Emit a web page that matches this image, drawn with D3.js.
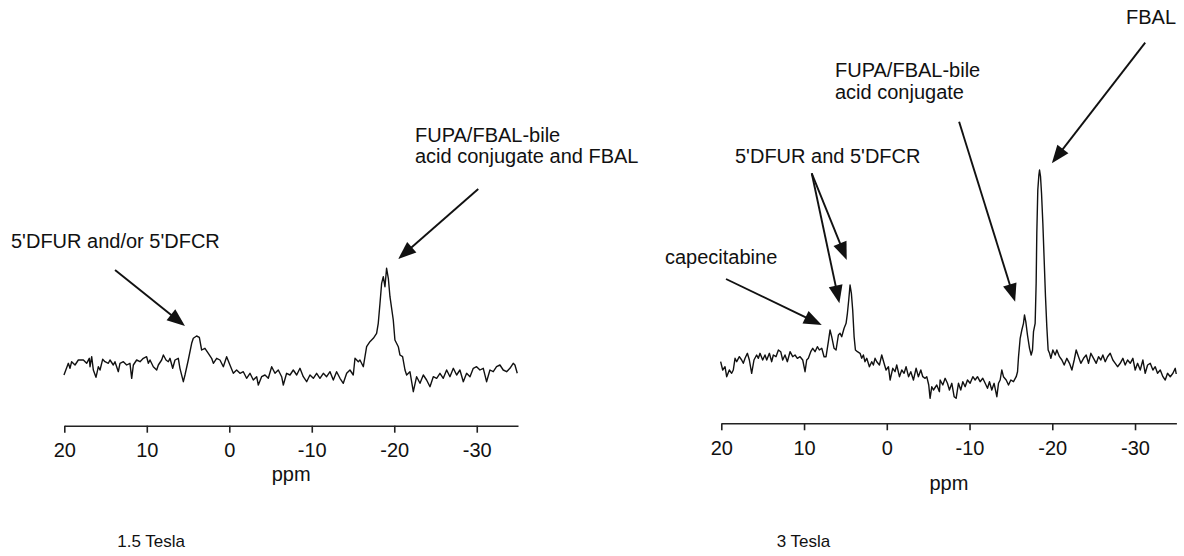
<!DOCTYPE html>
<html>
<head>
<meta charset="utf-8">
<script src="https://cdn.jsdelivr.net/npm/d3@7"></script>
<style>
  body { margin: 0; background: #fff; }
  text { font-family: "Liberation Sans", Arial, sans-serif; fill: #111; }
</style>
</head>
<body>
<div id="chart"></div>
<script>
// spectra: [ppm, signal] (signal in arbitrary units, 0 = bottom of plot)
let spectrum_15T = [
  [20.04,25],[19.51,36.7],[19.31,31.7],[19.11,38.3],[18.7,35],[18.3,40],[17.69,40],[17.29,36.7],
  [16.97,41.7],[16.88,33.3],[16.68,43.3],[16.48,30],[16.16,22.7],[15.87,33.3],[15.67,30],[15.35,40.7],
  [15.07,38.3],[14.66,36.7],[14.46,40],[14.06,35],[13.86,38.3],[13.45,28.3],[13.25,36.7],[12.84,38.3],
  [12.44,35],[12.04,36.7],[11.83,21.7],[11.63,35],[11.23,40],[10.82,38.3],[10.42,41.7],[10.02,43.3],
  [9.81,36.7],[9.61,40],[9.21,33.3],[8.8,30],[8.6,35],[8.2,40],[7.99,45],[7.67,40],[7.39,38.3],
  [7.19,41.7],[6.86,31.7],[6.58,40],[6.18,41.7],[5.98,31.7],[5.57,18.3],[5.37,25],[4.97,40],
  [4.56,56.7],[4.36,61.7],[3.96,64],[3.63,62.7],[3.35,50],[2.95,51.7],[2.54,46.7],[2.14,41.7],
  [1.93,36.7],[1.53,41.7],[1.13,40],[0.72,33.3],[0.32,43.3],[-0.08,35],[-0.49,26.7],[-0.89,30],
  [-1.3,26.7],[-1.7,28.3],[-2.1,21.7],[-2.51,26.7],[-2.91,20],[-3.32,23.3],[-3.52,15],[-3.92,23.3],
  [-4.33,25],[-4.73,21.7],[-5.14,33.3],[-5.54,26.7],[-5.94,30],[-6.35,23.3],[-6.55,15],[-6.95,26.7],
  [-7.36,25],[-7.76,30],[-8.17,25],[-8.57,31.7],[-8.97,23.3],[-9.38,18.3],[-9.78,25],[-10.19,21.7],
  [-10.59,26.7],[-10.99,21.7],[-11.4,26.7],[-11.8,23.3],[-12.21,28.3],[-12.61,20],[-13.01,28.3],
  [-13.42,21.7],[-13.82,16.7],[-14.23,26.7],[-14.63,30],[-15.03,25],[-15.24,41.7],[-15.64,38.3],
  [-15.84,40],[-16.25,33.3],[-16.45,43.3],[-16.65,53.3],[-17.05,58.3],[-17.46,61.7],[-17.86,66.7],
  [-18.06,76.7],[-18.27,96.7],[-18.47,116.7],[-18.67,123.3],[-18.87,113.3],[-19.07,131.7],
  [-19.28,121.7],[-19.48,103.3],[-19.88,80],[-20.08,60],[-20.49,53.3],[-20.69,45],[-21.01,43.3],
  [-21.3,30],[-21.5,25],[-21.9,28.3],[-22.31,8.3],[-22.71,23.3],[-23.12,16.7],[-23.52,25],
  [-23.92,20],[-24.33,13.3],[-24.73,23.3],[-25.14,21.7],[-25.54,26.7],[-25.94,21.7],[-26.35,30],
  [-26.75,23.3],[-27.16,31.7],[-27.56,25],[-27.96,30],[-28.37,18.3],[-28.77,26.7],[-29.18,23.3],
  [-29.58,31.7],[-29.98,33.3],[-30.39,30],[-30.79,31.7],[-31.19,18.3],[-31.6,30],[-32,28.3],
  [-32.4,33.3],[-32.81,35],[-33.21,30],[-33.62,28.3],[-34.02,31.7],[-34.42,36.7],[-34.63,35],[-34.91,26.7]
];

let spectrum_3T = [
  [20.08,38.3],[19.83,30],[19.55,33.3],[19.35,23.3],[19.03,30],[18.75,26.7],[18.55,30],[18.34,41.7],
  [18.14,38.3],[17.82,43.3],[17.54,40],[17.34,36.7],[17.13,41.7],[16.85,46.7],[16.61,40],[16.33,26.7],
  [16.05,40],[15.73,45],[15.52,41.7],[15.32,46.7],[15,40],[14.72,45],[14.51,40],[14.19,46.7],
  [13.91,38.3],[13.71,45],[13.39,43.3],[13.1,50],[12.82,48.3],[12.58,40],[12.3,45],[12.02,38.3],
  [11.69,48.3],[11.37,43.3],[11.09,45],[10.81,41.7],[10.48,43.3],[10.16,40],[9.88,28.3],[9.68,40],
  [9.48,41.7],[9.19,48.3],[8.95,51.7],[8.67,48.3],[8.39,53.3],[8.15,50],[7.86,51.7],[7.58,43.3],
  [7.34,43.3],[7.06,58.3],[6.86,70],[6.66,63.3],[6.37,51.7],[6.13,50],[5.85,65],[5.65,66.7],
  [5.45,63.3],[5.16,71.7],[4.92,76.7],[4.76,86.7],[4.6,100],[4.44,115],[4.28,106.7],[4.12,90],
  [3.95,63.3],[3.79,50],[3.55,48.3],[3.23,46.7],[3.03,41.7],[2.83,45],[2.64,38.3],[2.42,41.7],
  [2.1,33.3],[1.82,38.3],[1.62,35],[1.42,41.7],[1.21,38.3],[0.89,35],[0.61,45],[0.33,36.7],
  [0.09,30],[-0.2,33.3],[-0.4,20],[-0.72,31.7],[-1,28.3],[-1.2,35],[-1.53,23.3],[-1.81,30],
  [-2.09,26.7],[-2.33,33.3],[-2.63,23.3],[-2.9,28.3],[-3.22,20],[-3.54,31.7],[-3.82,23.3],[-4.11,30],
  [-4.35,23.3],[-4.63,21.7],[-4.83,23.3],[-5.07,15],[-5.23,1.7],[-5.44,13.3],[-5.64,10],[-6.04,15],
  [-6.36,8.3],[-6.45,20],[-6.77,15],[-7.05,21.7],[-7.33,16.7],[-7.57,10],[-7.86,16.7],[-8.14,3.3],
  [-8.38,1.7],[-8.66,16.7],[-8.94,10],[-9.19,18.3],[-9.47,13.3],[-9.75,20],[-10.07,16.7],[-10.4,23.3],
  [-10.68,20],[-10.96,23.3],[-11.28,18.3],[-11.6,21.7],[-11.89,16.7],[-12.17,11.7],[-12.41,18.3],
  [-12.69,10],[-12.97,16.7],[-13.3,3.3],[-13.5,16.7],[-13.7,20],[-13.9,30],[-14.1,23.3],[-14.43,20],
  [-14.71,15],[-14.99,20],[-15.31,18.3],[-15.64,23.3],[-15.8,28.3],[-15.92,43.3],[-16.12,61.7],
  [-16.32,70],[-16.52,76.7],[-16.64,85],[-16.8,78.3],[-17,65],[-17.25,51.7],[-17.45,45],[-17.61,50],
  [-17.73,68.3],[-17.93,76.7],[-18.05,116.7],[-18.13,166.7],[-18.25,210],[-18.38,225],[-18.46,230],
  [-18.58,223.3],[-18.7,206.7],[-18.86,176.7],[-19.02,140],[-19.18,103.3],[-19.34,73.3],[-19.5,50],
  [-19.67,46.7],[-19.83,41.7],[-20.07,50],[-20.35,45],[-20.55,50],[-20.87,43.3],[-21.16,40],
  [-21.44,35],[-21.76,41.7],[-22.08,36.7],[-22.37,30],[-22.65,40],[-22.89,50],[-23.17,43.3],
  [-23.45,36.7],[-23.78,41.7],[-24.1,45],[-24.38,36.7],[-24.66,46.7],[-24.99,41.7],[-25.31,36.7],
  [-25.59,43.3],[-25.87,40],[-26.11,45],[-26.4,38.3],[-26.68,43.3],[-27,46.7],[-27.32,40],
  [-27.61,36.7],[-27.89,33.3],[-28.21,36.7],[-28.53,41.7],[-28.81,35],[-29.1,40],[-29.42,36.7],
  [-29.74,41.7],[-30.02,30],[-30.31,36.7],[-30.63,30],[-30.95,40],[-31.23,26.7],[-31.52,35],
  [-31.84,36.7],[-32.16,30],[-32.44,33.3],[-32.72,26.7],[-33.05,30],[-33.37,23.3],[-33.65,20],
  [-33.93,26.7],[-34.26,23.3],[-34.58,26.7],[-34.86,31.7],[-34.98,26]
];

let ppm_domain = [20, -35];
let ppm_ticks = [20, 10, 0, -10, -20, -30];

// arrows in data units: [from ppm, from signal, to ppm, to signal]
let arrows_15T = [
  [13.85, 130, 5.37, 74],
  [-30.18, 211, -20.48, 141]
];
let arrows_3T = [
  [19.43, 121, 7.86, 75],
  [9.07, 226.7, 5.73, 96.7],
  [9.07, 226.7, 4.84, 140],
  [-8.74, 278.3, -15.51, 98.3],
  [-31.23, 357.3, -19.95, 236.7]
];

let svg;

function init() {
  svg = d3
    .select("#chart")
    .append("svg")
    .attr("width", 1184)
    .attr("height", 556);
  draw();
}

function draw() {
  let y = d3.scaleLinear().domain([0, 100]).range([400, 300]);

  // 1.5 Tesla panel
  let x1 = d3.scaleLinear().domain(ppm_domain).range([64.3, 518]);
  drawPanel(spectrum_15T, arrows_15T, x1, y, 425.7, 481);
  label(11, 248.3, "5'DFUR and/or 5'DFCR");
  label(415, 141.7, "FUPA/FBAL-bile");
  label(415, 163.3, "acid conjugate and FBAL");
  svg.append("text").attr("x", 117.3).attr("y", 547).style("font-size", "17px").text("1.5 Tesla");

  // 3 Tesla panel
  let x2 = d3.scaleLinear().domain(ppm_domain).range([721.3, 1176.4]);
  drawPanel(spectrum_3T, arrows_3T, x2, y, 423.3, 490);
  label(1126, 24, "FBAL");
  label(835, 77, "FUPA/FBAL-bile");
  label(835, 98.7, "acid conjugate");
  label(735, 163.3, "5'DFUR and 5'DFCR");
  label(665, 264, "capecitabine");
  svg.append("text").attr("x", 776.7).attr("y", 547).style("font-size", "17px").text("3 Tesla");
}

function drawPanel(data, arrows, x, y, axis_y, ppm_y) {
  let line = d3
    .line()
    .x(function (d) { return x(d[0]); })
    .y(function (d) { return y(d[1]); });

  svg
    .append("path")
    .datum(data)
    .attr("d", line)
    .style("fill", "none")
    .style("stroke", "#111")
    .style("stroke-width", 1.4)
    .style("stroke-linejoin", "round");

  let axis = svg
    .append("g")
    .attr("transform", "translate(0," + axis_y + ")")
    .call(
      d3
        .axisBottom(x)
        .tickValues(ppm_ticks)
        .tickFormat(function (d) { return String(d); })
        .tickSize(7)
        .tickSizeOuter(0)
        .tickPadding(10.4)
    );
  axis.select(".domain").style("stroke", "#222").style("stroke-width", 1.6);
  axis.selectAll(".tick line").style("stroke", "#222").style("stroke-width", 1.6);
  axis
    .selectAll(".tick text")
    .style("font-size", "20px")
    .style("font-family", '"Liberation Sans", Arial, sans-serif')
    .style("fill", "#111");

  let mid = (x.range()[0] + x.range()[1]) / 2;
  svg
    .append("text")
    .attr("x", mid)
    .attr("y", ppm_y)
    .attr("text-anchor", "middle")
    .style("font-size", "20px")
    .text("ppm");

  arrows.forEach(function (a) {
    drawArrow(x(a[0]), y(a[1]), x(a[2]), y(a[3]));
  });
}

function label(px, py, txt) {
  svg
    .append("text")
    .attr("x", px)
    .attr("y", py)
    .style("font-size", "20px")
    .text(txt);
}

function drawArrow(x1, y1, x2, y2) {
  let head = 18;
  let half = 7;
  let dx = x2 - x1;
  let dy = y2 - y1;
  let len = Math.sqrt(dx * dx + dy * dy);
  let ux = dx / len;
  let uy = dy / len;
  let bx = x2 - ux * head;
  let by = y2 - uy * head;

  svg
    .append("line")
    .attr("x1", x1)
    .attr("y1", y1)
    .attr("x2", bx + ux * 2)
    .attr("y2", by + uy * 2)
    .style("stroke", "#111")
    .style("stroke-width", 1.9);

  svg
    .append("polygon")
    .attr(
      "points",
      [
        [x2, y2],
        [bx - uy * half, by + ux * half],
        [bx + uy * half, by - ux * half],
      ].join(" ")
    )
    .style("fill", "#111");
}

init();
</script>
</body>
</html>
